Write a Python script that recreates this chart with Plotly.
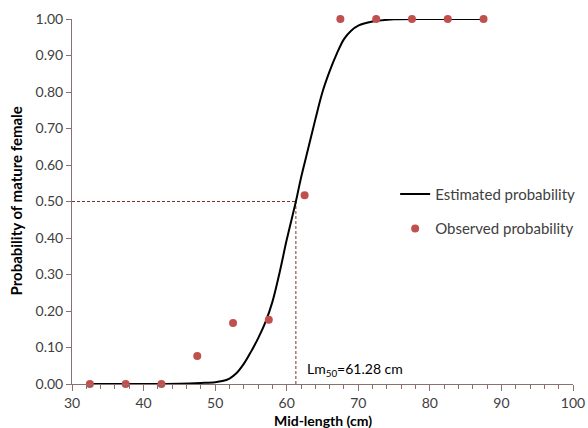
import plotly.graph_objects as go

# Observed proportion of mature females per 5 cm length class
mid_length = [32.5, 37.5, 42.5, 47.5, 52.5, 57.5, 62.5, 67.5, 72.5, 77.5, 82.5, 87.5]
observed = [0.0, 0.0, 0.0, 0.077, 0.167, 0.176, 0.517, 1.0, 1.0, 1.0, 1.0, 1.0]

# Fitted maturity ogive
curve_x = [32.5, 35, 40, 45, 48, 50, 51, 52, 53, 54, 55, 56, 57, 58, 59, 60, 61.28,
           62, 63, 64, 65, 66, 67, 68, 69, 70, 72, 75, 80, 87.5]
curve_y = [0.0, 0.0, 0.0, 0.001, 0.003, 0.005, 0.008, 0.015, 0.03, 0.055, 0.088, 0.125,
           0.168, 0.225, 0.305, 0.395, 0.50, 0.565, 0.645, 0.725, 0.80, 0.857, 0.905,
           0.945, 0.968, 0.982, 0.993, 0.999, 1.0, 1.0]

lm50 = 61.28
x_ticks = [30, 40, 50, 60, 70, 80, 90, 100]
y_ticks = [i / 10 for i in range(11)]

axis_color = "#8c7070"
ref_color = "#7a3434"
text_color = "#404040"
font_family = "Lato, 'Open Sans', sans-serif"

fig = go.Figure()

fig.add_trace(go.Scatter(
    x=curve_x, y=curve_y, mode="lines", name="Estimated probability",
    legendgroup="est",
    line=dict(color="black", width=2, shape="spline", smoothing=1),
))
fig.add_trace(go.Scatter(
    x=mid_length, y=observed, mode="markers", name="Observed probability",
    legendgroup="obs",
    marker=dict(color="#c0504d", size=8), cliponaxis=False,
))

# Lm50 reference lines
fig.add_shape(type="line", x0=30, x1=lm50, y0=0.5, y1=0.5,
              line=dict(color=ref_color, width=1, dash="3px,2px"), layer="below")
fig.add_shape(type="line", x0=lm50, x1=lm50, y0=0, y1=0.5,
              line=dict(color=ref_color, width=1, dash="3px,2px"), layer="below")

fig.add_annotation(x=62.6, y=0.04, xanchor="left", yanchor="middle", showarrow=False,
                   text=f"Lm<sub>50</sub>={lm50:.2f} cm",
                   font=dict(size=14, color="black", family=font_family))

# Axis titles
fig.add_annotation(xref="paper", yref="paper", x=0.5, y=0, yshift=-36,
                   xanchor="center", yanchor="middle", showarrow=False,
                   text="<b>Mid-length (cm)</b>",
                   font=dict(size=14, color="black", family=font_family))
fig.add_annotation(xref="paper", yref="paper", x=0, y=0.5, xshift=-57,
                   xanchor="center", yanchor="middle", showarrow=False, textangle=-90,
                   text="<b>Probability of mature female</b>",
                   font=dict(size=15, color="black", family=font_family))

fig.update_layout(
    width=588, height=428,
    margin=dict(l=72, r=15, t=19, b=44, autoexpand=False),
    paper_bgcolor="white", plot_bgcolor="white",
    font=dict(family=font_family, size=14, color=text_color),
    showlegend=True,
    legend=dict(x=0.645, y=0.565, xanchor="left", yanchor="top",
                bgcolor="rgba(0,0,0,0)", font=dict(size=15, color=text_color),
                traceorder="grouped", tracegroupgap=12, itemwidth=30),
)

fig.update_xaxes(
    range=[30, 100], tickvals=x_ticks, showgrid=False, zeroline=False,
    showline=True, linecolor=axis_color, linewidth=1, automargin=False,
    ticks="outside", ticklen=6, tickcolor=axis_color,
    minor=dict(dtick=2, ticks="outside", ticklen=4, tickcolor=axis_color, showgrid=False),
    tickfont=dict(size=14, color=text_color),
)
fig.update_yaxes(
    range=[0, 1], tickvals=y_ticks, tickformat=".2f", showgrid=False, zeroline=False,
    showline=True, linecolor=axis_color, linewidth=1, automargin=False,
    ticks="outside", ticklen=5, tickcolor=axis_color,
    tickfont=dict(size=14, color=text_color),
)

fig.write_html("out.html")
